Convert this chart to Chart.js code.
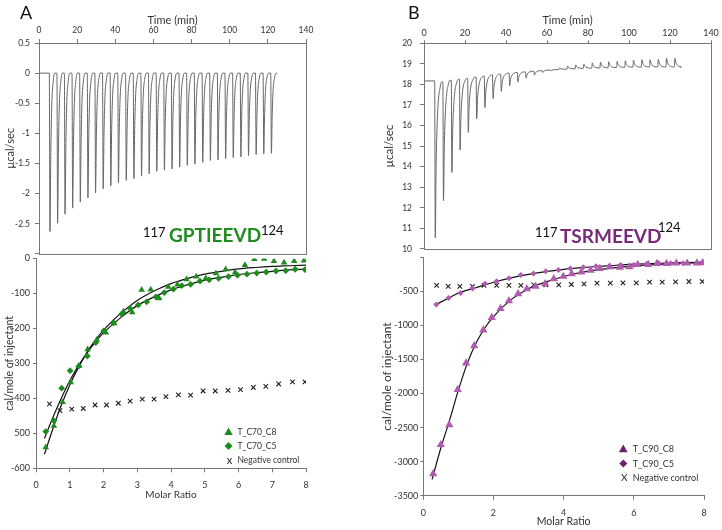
<!DOCTYPE html>
<html>
<head>
<meta charset="utf-8">
<title>ITC titrations</title>
<script src="https://cdn.jsdelivr.net/npm/chart.js@4.4.1/dist/chart.umd.min.js"></script>
<style>
  html, body { margin: 0; padding: 0; background: #fff; }
  #fig { position: relative; width: 722px; height: 530px; overflow: hidden; font-family: Lato, sans-serif; }
  #fig canvas { position: absolute; }
  .lbl { position: absolute; white-space: nowrap; line-height: 1; color: #111; }
</style>
</head>
<body>
<div id="fig">
  <canvas id="aTop" width="320" height="264" style="left:0;top:0"></canvas>
  <canvas id="aBot" width="320" height="256" style="left:0;top:250px"></canvas>
  <canvas id="bTop" width="362" height="262" style="left:360px;top:0"></canvas>
  <canvas id="bBot" width="362" height="280" style="left:360px;top:250px"></canvas>

  <div class="lbl" style="left:20px;top:3px;font-size:18px">A</div>
  <div class="lbl" style="left:408px;top:3px;font-size:18px">B</div>

  <div class="lbl" style="left:143px;top:226px;font-size:13px">117</div>
  <div class="lbl" style="left:169px;top:225px;font-size:19px;font-weight:bold;color:#1e8c1e">GPTIEEVD</div>
  <div class="lbl" style="left:261px;top:224px;font-size:13px">124</div>

  <div class="lbl" style="left:535px;top:226px;font-size:13px">117</div>
  <div class="lbl" style="left:560px;top:226px;font-size:19px;font-weight:bold;color:#7a2a7a">TSRMEEVD</div>
  <div class="lbl" style="left:658px;top:221px;font-size:13px">124</div>
</div>

<script>
// ---- panel A, raw thermogram (time in min, peak minimum in ucal/sec) ----
const aInjTime = [5.4, 9.4, 13.3, 17.3, 21.3, 25.3, 29.3, 33.3, 37.3, 41.3, 45.4, 49.4, 53.4, 57.4, 61.4,
                  65.4, 69.4, 73.4, 77.4, 81.4, 85.5, 89.5, 93.5, 97.5, 101.5, 105.5, 109.5, 113.5, 117.5, 121.5];
const aPeak = [-2.63, -2.49, -2.34, -2.24, -2.14, -2.07, -1.99, -1.92, -1.87, -1.82, -1.78, -1.75, -1.71, -1.67, -1.63,
               -1.61, -1.59, -1.56, -1.53, -1.51, -1.48, -1.45, -1.44, -1.42, -1.40, -1.39, -1.37, -1.35, -1.34, -1.33];
const aBaseline = 0;
const aRunEnd = 125;

// ---- panel A, integrated heats ----
const aC8Ratio = [0.29, 0.53, 0.79, 1.03, 1.27, 1.53, 1.80, 2.07, 2.32, 2.59, 2.85, 3.13, 3.40, 3.65, 3.92,
                  4.19, 4.46, 4.75, 5.03, 5.33, 5.62, 5.90, 6.19, 6.47, 6.76, 7.05, 7.35, 7.65, 7.94];
const aC8Heat = [-540, -479, -411, -354, -307, -260, -233, -212, -186, -152, -154, -90, -89, -114, -81,
                 -75, -60, -52, -57, -43, -31, -40, -19, -2, -1, -8, -12, -8, -6];
const aC5Ratio = [0.29, 0.53, 0.76, 1.01, 1.27, 1.52, 1.77, 2.01, 2.29, 2.54, 2.79, 3.03, 3.28, 3.55, 3.80,
                  4.07, 4.32, 4.58, 4.86, 5.13, 5.41, 5.70, 5.97, 6.25, 6.54, 6.82, 7.11, 7.40, 7.68, 7.97];
const aC5Heat = [-495, -464, -371, -321, -308, -279, -241, -207, -184, -159, -143, -133, -124, -110, -98,
                 -88, -78, -74, -65, -61, -57, -52, -48, -45, -42, -39, -36, -35, -31, -32];
const aCtlRatio = [0.40, 0.71, 1.06, 1.40, 1.75, 2.09, 2.44, 2.79, 3.15, 3.50, 3.85,
                   4.22, 4.58, 4.95, 5.31, 5.69, 6.06, 6.44, 6.81, 7.19, 7.60, 7.97];
const aCtlHeat = [-416, -435, -431, -429, -419, -419, -414, -408, -402, -402, -395,
                  -390, -391, -379, -379, -377, -375, -369, -366, -359, -353, -353];
const aFitRatio = [0.25, 0.5, 0.75, 1, 1.25, 1.5, 1.75, 2, 2.5, 3, 3.5, 4, 4.5, 5, 5.5, 6, 6.5, 7, 7.5, 8];
const aFitC8 = [-560, -487, -420, -362, -313, -270, -235, -205, -158, -120, -93, -72, -57, -45, -37, -30, -26, -23, -21, -19];
const aFitC5 = [-515, -455, -400, -350, -308, -272, -240, -213, -170, -135, -110, -90, -75, -62, -54, -46, -41, -37, -33, -31];
const aHeatTickText = ['0', '-100', '-200', '-300', '-400', '500', '-600'];

// ---- panel B, raw thermogram ----
const bInjTime = [5.2, 9.2, 13.3, 17.3, 21.3, 25.4, 29.4, 33.4, 37.4, 41.5, 45.5, 49.5, 53.6, 57.6, 61.6,
                  65.7, 69.7, 73.7, 77.7, 81.8, 85.8, 89.8, 93.9, 97.9, 101.9, 106.0, 110.0, 114.0, 118.0, 122.1];
const bBaseline = [18.17, 18.12, 18.2, 18.25, 18.29, 18.35, 18.4, 18.46, 18.5, 18.55, 18.58, 18.61, 18.64, 18.67, 18.7,
                   18.72, 18.74, 18.76, 18.78, 18.79, 18.8, 18.81, 18.82, 18.83, 18.84, 18.84, 18.85, 18.85, 18.85, 18.85];
const bPeak = [10.54, 12.34, 13.72, 14.81, 15.67, 16.33, 16.87, 17.31, 17.66, 17.94, 18.12, 18.31, 18.45, 18.58, 18.66,
               18.8, 18.9, 18.95, 18.98, 19.05, 19.08, 19.1, 19.12, 19.15, 19.18, 19.2, 19.2, 19.22, 19.28, 19.28];
const bRunEnd = 124.8;

// ---- panel B, integrated heats ----
const bC8Ratio = [0.28, 0.50, 0.74, 0.98, 1.22, 1.45, 1.71, 1.95, 2.20, 2.44, 2.70, 2.95, 3.20, 3.47, 3.72, 3.99,
                  4.23, 4.50, 4.77, 5.03, 5.32, 5.60, 5.87, 6.11, 6.41, 6.66, 6.93, 7.21, 7.52, 7.80, 7.96];
const bC8Heat = [-3178, -2751, -2460, -1941, -1553, -1300, -1067, -883, -752, -640, -534, -461, -427, -388, -315, -280,
                 -240, -215, -190, -165, -140, -146, -140, -105, -105, -90, -90, -85, -85, -82, -80];
const bC5Ratio = [0.37, 0.72, 1.06, 1.40, 1.76, 2.09, 2.44, 2.78, 3.14, 3.49, 3.85,
                  4.19, 4.56, 4.92, 5.29, 5.63, 6.00, 6.36, 6.71, 7.05, 7.40, 7.97];
const bC5Heat = [-690, -595, -522, -456, -386, -350, -306, -257, -238, -204, -184,
                 -162, -146, -131, -131, -112, -112, -97, -87, -87, -87, -73];
const bCtlRatio = [0.38, 0.71, 1.04, 1.40, 1.73, 2.09, 2.44, 2.78, 3.15, 3.49, 3.86,
                   4.22, 4.58, 4.95, 5.33, 5.69, 6.07, 6.45, 6.81, 7.19, 7.57, 7.95];
const bCtlHeat = [-412, -427, -427, -427, -412, -412, -412, -412, -403, -403, -403,
                  -398, -388, -379, -379, -374, -374, -364, -364, -359, -354, -354];
const bFitC8Ratio = [0.25, 0.5, 0.75, 1, 1.25, 1.5, 1.75, 2, 2.5, 3, 3.5, 4, 4.5, 5, 5.5, 6, 6.5, 7, 7.5, 8];
const bFitC8 = [-3260, -2800, -2390, -1950, -1560, -1260, -1040, -870, -620, -460, -360, -280, -220, -180, -150, -125, -108, -95, -85, -75];
const bFitC5Ratio = [0.37, 0.75, 1, 1.5, 2, 2.5, 3, 3.5, 4, 4.5, 5, 5.5, 6, 6.5, 7, 7.5, 8];
const bFitC5 = [-690, -590, -525, -445, -365, -300, -250, -210, -175, -150, -130, -115, -100, -90, -82, -75, -70];

const GREEN = '#1e8b1e';
const PURPLE = '#b05ab0';
const PURPLE_DARK = '#6d1f6d';

// shape of one injection spike: [minutes after injection, fraction of peak height]
const SPIKE_A = [[0, 0], [0.35, 1], [0.8, 0.5], [1.3, 0.2], [2.0, 0.06], [2.8, 0]];
const SPIKE_B = [[0, 0], [0.3, 1], [0.7, 0.55], [1.2, 0.28], [1.8, 0.12], [2.6, 0.04], [3.4, 0]];

Chart.defaults.font.family = "Lato, 'Open Sans', sans-serif";
Chart.defaults.color = '#333';
Chart.defaults.animation = false;

const framePlugin = {
    id: 'frame',
    afterDatasetsDraw(chart, args, opts) {
        if (!opts.show) return;
        const a = chart.chartArea;
        const ctx = chart.ctx;
        ctx.save();
        ctx.strokeStyle = opts.color || '#777';
        ctx.lineWidth = 1;
        ctx.strokeRect(Math.round(a.left) + 0.5, Math.round(a.top) + 0.5,
            Math.round(a.right - a.left), Math.round(a.bottom - a.top));
        ctx.restore();
    }
};

function marker(ctx, style, x, y, r) {
    ctx.beginPath();
    if (style === 'triangle') {
        ctx.moveTo(x, y - r);
        ctx.lineTo(x + r * 0.95, y + r * 0.7);
        ctx.lineTo(x - r * 0.95, y + r * 0.7);
    } else {
        ctx.moveTo(x, y - r);
        ctx.lineTo(x + r, y);
        ctx.lineTo(x, y + r);
        ctx.lineTo(x - r, y);
    }
    ctx.closePath();
    ctx.fill();
}

// legend drawn inside the plot, bottom right
const keyPlugin = {
    id: 'key',
    afterDraw(chart, args, opts) {
        if (!opts.items) return;
        const ctx = chart.ctx;
        ctx.save();
        ctx.textBaseline = 'middle';
        opts.items.forEach((it, i) => {
            const y = opts.y + i * opts.gap;
            ctx.fillStyle = it.color;
            if (it.glyph) {
                ctx.font = `${it.radius}px Lato`;
                ctx.textAlign = 'center';
                ctx.fillText(it.glyph, opts.x + 1, y);
            } else {
                marker(ctx, it.style, opts.x, y, it.radius);
            }
            ctx.fillStyle = '#333';
            ctx.textAlign = 'left';
            ctx.font = `${opts.size}px Lato`;
            ctx.fillText(it.text, opts.x + opts.dx, y);
        });
        ctx.restore();
    }
};

Chart.register(framePlugin, keyPlugin);

function pts(xs, ys) {
    return xs.map((x, i) => ({ x: x, y: ys[i] }));
}

function thermogram(times, base, peak, shape, end) {
    const lvl = i => Array.isArray(base) ? base[Math.min(i, base.length - 1)] : base;
    const out = [{ x: 0, y: lvl(0) }];
    times.forEach((t, i) => {
        const b0 = lvl(i);
        const b1 = lvl(i + 1);
        shape.forEach(([dt, f], k) => {
            const b = k < 2 ? b0 : b1;
            out.push({ x: t + dt, y: b + (peak[i] - b) * f });
        });
    });
    out.push({ x: end, y: lvl(times.length) });
    return out;
}

function axis(o) {
    const ticks = { stepSize: o.step, autoSkip: false, padding: o.pad, font: { size: o.fs }, color: '#333' };
    if (o.cb) ticks.callback = o.cb;
    return {
        type: 'linear',
        position: o.pos,
        min: o.min,
        max: o.max,
        ticks: ticks,
        grid: { drawOnChartArea: false, tickLength: o.tl, color: '#777' },
        border: { display: o.border !== false, color: '#777' },
        title: { display: true, text: o.title, font: { size: o.tfs }, color: '#333', padding: o.tpad },
        afterFit: o.fit
    };
}

function traceChart(id, data, padding, xo, yo) {
    return new Chart(document.getElementById(id), {
        type: 'scatter',
        data: {
            datasets: [{
                data: data,
                showLine: true,
                borderColor: '#666',
                borderWidth: 1,
                pointRadius: 0,
                cubicInterpolationMode: 'monotone'
            }]
        },
        options: {
            responsive: false,
            events: [],
            layout: { padding: padding },
            plugins: { legend: { display: false }, tooltip: { enabled: false }, frame: { show: true, color: '#777' } },
            scales: { x: axis(xo), y: axis(yo) }
        }
    });
}

function heatChart(id, sets, padding, key, xo, yo) {
    return new Chart(document.getElementById(id), {
        type: 'scatter',
        data: { datasets: sets },
        options: {
            responsive: false,
            events: [],
            layout: { padding: padding },
            plugins: { legend: { display: false }, tooltip: { enabled: false }, key: key },
            scales: { x: axis(xo), y: axis(yo) }
        }
    });
}

function markerSet(data, style, r, color) {
    return { data: data, pointStyle: style, pointRadius: r, backgroundColor: color, borderColor: color,
             pointBorderWidth: 0, borderWidth: 0 };
}
function crossSet(data) {
    return { data: data, pointStyle: 'crossRot', pointRadius: 3.2, pointBorderColor: '#222',
             borderColor: '#222', pointBorderWidth: 1.1 };
}
function fitSet(data) {
    return { data: data, showLine: true, pointRadius: 0, borderColor: '#111', borderWidth: 1.2,
             cubicInterpolationMode: 'monotone' };
}

// ---- A, top ----
traceChart('aTop', thermogram(aInjTime, aBaseline, aPeak, SPIKE_A, aRunEnd),
    { top: 10, right: 14, bottom: 5.5, left: 0 },
    { pos: 'top', min: 0, max: 140, step: 20, pad: 4, fs: 8.5, tl: 4, border: false,
      title: 'Time (min)', tfs: 11, tpad: { top: 4, bottom: 2 }, fit: s => { s.height = 33; } },
    { pos: 'left', min: -3, max: 0.5, step: 0.5, pad: 5, fs: 8.5, tl: 4, border: false,
      cb: v => (v === -3 ? '' : v),
      title: 'µcal/sec', tfs: 11, tpad: { top: 4, bottom: 2 }, fit: s => { s.width = 39; } });

// ---- A, bottom ----
heatChart('aBot', [
        markerSet(pts(aC8Ratio, aC8Heat), 'triangle', 3.8, GREEN),
        markerSet(pts(aC5Ratio, aC5Heat), 'rectRot', 3.4, GREEN),
        crossSet(pts(aCtlRatio, aCtlHeat)),
        fitSet(pts(aFitRatio, aFitC8)),
        fitSet(pts(aFitRatio, aFitC5))
    ],
    { top: 8.3, right: 14, bottom: 0, left: 0 },
    { x: 228.5, y: 182, gap: 14, dx: 9, size: 8.5, items: [
        { style: 'triangle', radius: 4.4, color: GREEN, text: 'T_C70_C8' },
        { style: 'diamond', radius: 4, color: GREEN, text: 'T_C70_C5' },
        { glyph: 'x', radius: 11, color: '#222', text: 'Negative control' }
    ] },
    { pos: 'bottom', min: 0, max: 8, step: 1, pad: 7, fs: 9, tl: 4,
      title: 'Molar Ratio', tfs: 10, tpad: { top: 0, bottom: 5.5 }, fit: s => { s.height = 37.7; } },
    { pos: 'left', min: -600, max: 0, step: 100, pad: 3, fs: 9, tl: 3,
      cb: v => aHeatTickText[Math.round(-v / 100)],
      title: 'cal/mole of injectant', tfs: 10.5, tpad: { top: 3, bottom: 2 }, fit: s => { s.width = 36; } });

// ---- B, top ----
traceChart('bTop', thermogram(bInjTime, bBaseline, bPeak, SPIKE_B, bRunEnd),
    { top: 10, right: 11, bottom: 5.3, left: 18 },
    { pos: 'top', min: 0, max: 140, step: 20, pad: 2, fs: 9, tl: 3, border: false,
      title: 'Time (min)', tfs: 11, tpad: { top: 4, bottom: 2 }, fit: s => { s.height = 33.3; } },
    { pos: 'left', min: 10, max: 20, step: 1, pad: 8, fs: 8.5, tl: 4, border: false,
      title: 'µcal/sec', tfs: 11.5, tpad: { top: 4, bottom: 2 }, fit: s => { s.width = 46; } });

// ---- B, bottom ----
heatChart('bBot', [
        markerSet(pts(bC8Ratio, bC8Heat), 'triangle', 4.8, PURPLE),
        markerSet(pts(bC5Ratio, bC5Heat), 'rectRot', 3, PURPLE),
        crossSet(pts(bCtlRatio, bCtlHeat)),
        fitSet(pts(bFitC8Ratio, bFitC8)),
        fitSet(pts(bFitC5Ratio, bFitC5))
    ],
    { top: 5, right: 18, bottom: 0, left: 16 },
    { x: 263.3, y: 199, gap: 14.6, dx: 9.5, size: 9, items: [
        { style: 'triangle', radius: 4.6, color: PURPLE_DARK, text: 'T_C90_C8' },
        { style: 'diamond', radius: 4, color: PURPLE_DARK, text: 'T_C90_C5' },
        { glyph: 'X', radius: 10, color: '#222', text: 'Negative control' }
    ] },
    { pos: 'bottom', min: 0, max: 8, step: 2, pad: 8, fs: 9, tl: 4,
      title: 'Molar Ratio', tfs: 10.5, tpad: { top: 0, bottom: 2 }, fit: s => { s.height = 34.3; } },
    { pos: 'left', min: -3500, max: 0, step: 500, pad: 2, fs: 9, tl: 3,
      cb: v => (v === 0 ? '' : v),
      title: 'cal/mole of injectant', tfs: 12, tpad: { top: 4, bottom: 2 }, fit: s => { s.width = 47.3; } });
</script>
</body>
</html>
